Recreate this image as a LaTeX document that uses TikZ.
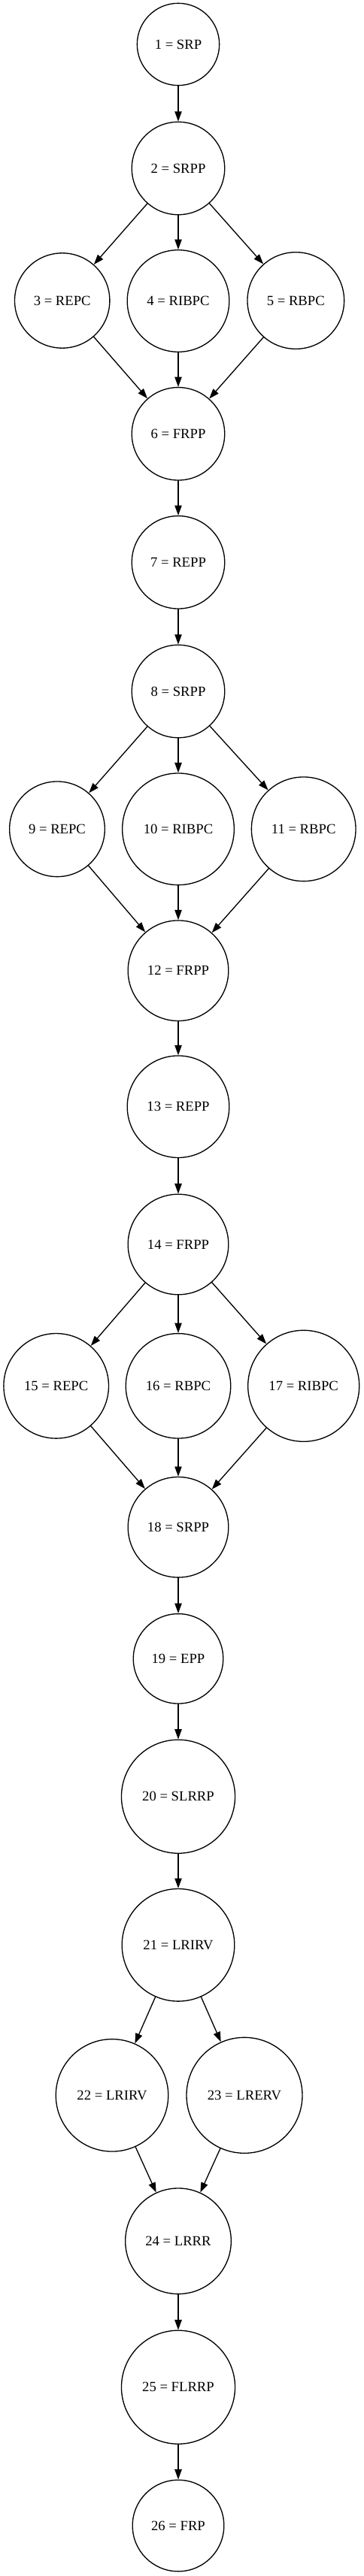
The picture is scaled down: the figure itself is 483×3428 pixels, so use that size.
\documentclass[tikz,border=0pt]{standalone}
\usepackage{fontspec}
\setmainfont{Liberation Serif}
\usetikzlibrary{arrows.meta}
\begin{document}
\begin{tikzpicture}[x=0.75pt, y=-0.75pt, line cap=round, line join=round,
    phase/.style={circle, draw, line width=1pt, inner sep=0pt, font=\fontsize{14}{16}\selectfont},
    flow/.style={-{Triangle[length=10pt, width=7pt]}, line width=1pt}]
    % page frame
    \useasboundingbox (0,0) rectangle (483,3428);

    % first block
    \node[phase, minimum size=82pt] (s1) at (237,59) {1 = SRP};
    \node[phase, minimum size=92.6pt] (s2) at (237,224) {2 = SRPP};
    \node[phase, minimum size=94.8pt] (s3) at (82.7,400) {3 = REPC};
    \node[phase, minimum size=101.7pt] (s4) at (237,400.5) {4 = RIBPC};
    \node[phase, minimum size=96.5pt] (s5) at (393.3,400) {5 = RBPC};
    \node[phase, minimum size=92.6pt] (s6) at (237,577.3) {6 = FRPP};
    \node[phase, minimum size=92.6pt] (s7) at (237,748.3) {7 = REPP};

    % second block
    \node[phase, minimum size=92.6pt] (s8) at (237,920) {8 = SRPP};
    \node[phase, minimum size=95pt] (s9) at (76,1103.3) {9 = REPC};
    \node[phase, minimum size=111.5pt] (s10) at (237,1103.3) {10 = RIBPC};
    \node[phase, minimum size=104pt] (s11) at (403.7,1103.3) {11 = RBPC};
    \node[phase, minimum size=100.2pt] (s12) at (237,1291.7) {12 = FRPP};
    \node[phase, minimum size=101.7pt] (s13) at (237,1472.7) {13 = REPP};

    % third block
    \node[phase, minimum size=100.2pt] (s14) at (237,1656) {14 = FRPP};
    \node[phase, minimum size=104.7pt] (s15) at (74.7,1844.3) {15 = REPC};
    \node[phase, minimum size=104.6pt] (s16) at (237,1844.3) {16 = RBPC};
    \node[phase, minimum size=111pt] (s17) at (403.7,1844.3) {17 = RIBPC};
    \node[phase, minimum size=100.2pt] (s18) at (237,2032.3) {18 = SRPP};
    \node[phase, minimum size=89.6pt] (s19) at (237,2207.3) {19 = EPP};
    \node[phase, minimum size=113.3pt] (s20) at (237,2390.7) {20 = SLRRP};

    % last block
    \node[phase, minimum size=112.2pt] (s21) at (237,2588.3) {21 = LRIRV};
    \node[phase, minimum size=112.1pt] (s22) at (149,2788.3) {22 = LRIRV};
    \node[phase, minimum size=115.5pt] (s23) at (325,2788.3) {23 = LRERV};
    \node[phase, minimum size=105.5pt] (s24) at (237,2982.3) {24 = LRRR};
    \node[phase, minimum size=113.3pt] (s25) at (237,3176.7) {25 = FLRRP};
    \node[phase, minimum size=91.2pt] (s26) at (237,3361) {26 = FRP};

    % edges
    \draw[flow] (s1) -- (s2);
    \draw[flow] (s2) -- (s3);
    \draw[flow] (s2) -- (s4);
    \draw[flow] (s2) -- (s5);
    \draw[flow] (s3) -- (s6);
    \draw[flow] (s4) -- (s6);
    \draw[flow] (s5) -- (s6);
    \draw[flow] (s6) -- (s7);
    \draw[flow] (s7) -- (s8);
    \draw[flow] (s8) -- (s9);
    \draw[flow] (s8) -- (s10);
    \draw[flow] (s8) -- (s11);
    \draw[flow] (s9) -- (s12);
    \draw[flow] (s10) -- (s12);
    \draw[flow] (s11) -- (s12);
    \draw[flow] (s12) -- (s13);
    \draw[flow] (s13) -- (s14);
    \draw[flow] (s14) -- (s15);
    \draw[flow] (s14) -- (s16);
    \draw[flow] (s14) -- (s17);
    \draw[flow] (s15) -- (s18);
    \draw[flow] (s16) -- (s18);
    \draw[flow] (s17) -- (s18);
    \draw[flow] (s18) -- (s19);
    \draw[flow] (s19) -- (s20);
    \draw[flow] (s20) -- (s21);
    \draw[flow] (s21) -- (s22);
    \draw[flow] (s21) -- (s23);
    \draw[flow] (s22) -- (s24);
    \draw[flow] (s23) -- (s24);
    \draw[flow] (s24) -- (s25);
    \draw[flow] (s25) -- (s26);
\end{tikzpicture}
\end{document}
